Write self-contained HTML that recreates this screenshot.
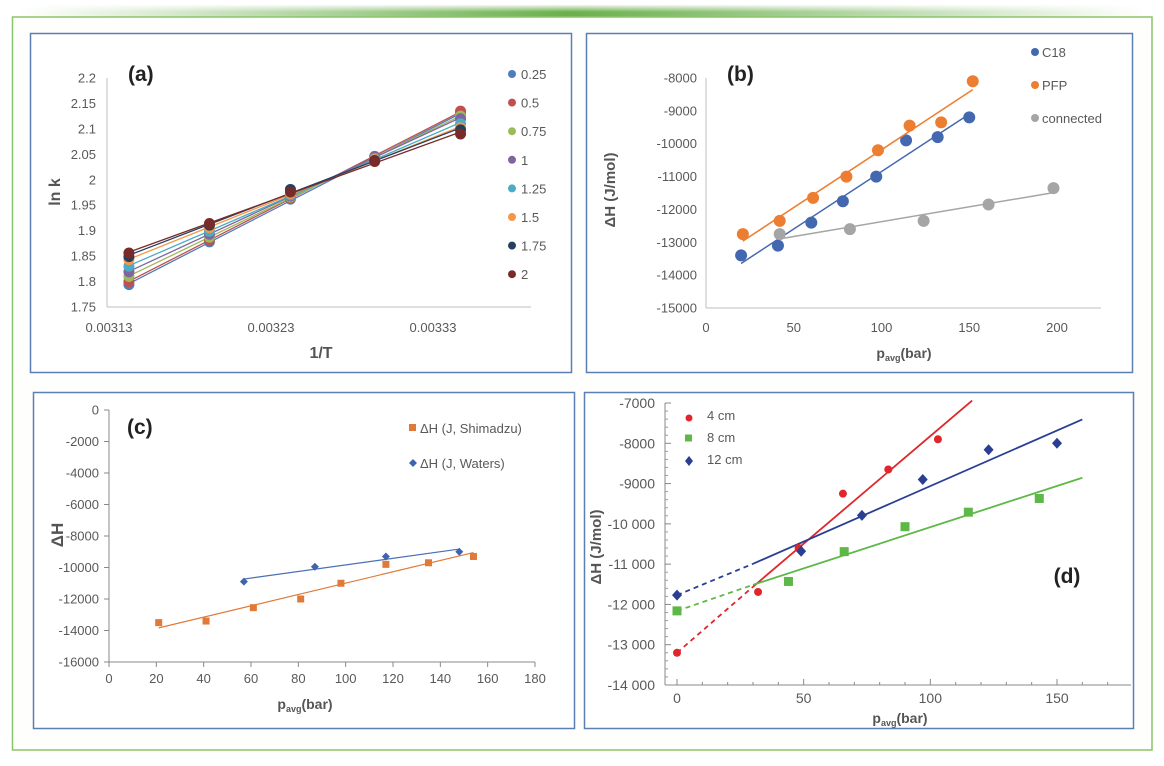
<!DOCTYPE html>
<html><head><meta charset="utf-8">
<style>
html,body{margin:0;padding:0;background:#fff;}
svg{display:block;font-family:"Liberation Sans",sans-serif;}
</style></head>
<body>
<svg id="fig" width="1164" height="766" viewBox="0 0 1164 766" xmlns="http://www.w3.org/2000/svg">
<defs>
<linearGradient id="topband" x1="0" x2="1" y1="0" y2="0">
<stop offset="0" stop-color="#6ab04c" stop-opacity="0"/>
<stop offset="0.49" stop-color="#6ab04c" stop-opacity="1"/>
<stop offset="1" stop-color="#6ab04c" stop-opacity="0"/>
</linearGradient>
<linearGradient id="topfade" x1="0" x2="0" y1="0" y2="1">
<stop offset="0" stop-color="#fff" stop-opacity="0.9"/>
<stop offset="1" stop-color="#fff" stop-opacity="0"/>
</linearGradient>
</defs>
<rect x="20" y="5" width="1125" height="12" fill="url(#topband)"/>
<rect x="20" y="5" width="1125" height="7" fill="url(#topfade)"/>
<rect x="12.5" y="17" width="1139.5" height="733" fill="#fefefc" stroke="#8cc46c" stroke-width="1.5"/>
<rect x="30.5" y="33.5" width="541" height="339" fill="#fff" stroke="#5b7fb5" stroke-width="1.5"/>
<rect x="586.5" y="33.5" width="546" height="339" fill="#fff" stroke="#5b7fb5" stroke-width="1.5"/>
<rect x="33.5" y="392.5" width="541" height="336" fill="#fff" stroke="#5b7fb5" stroke-width="1.5"/>
<rect x="584.5" y="392.5" width="549" height="336" fill="#fff" stroke="#5b7fb5" stroke-width="1.5"/>
<g id="layer"></g>
</svg>
<script>
// ---------- Panel (a) data ----------
const aX = [0.0031423, 0.003192, 0.003242, 0.003294, 0.003347];
const aSeriesNames = ["0.25","0.5","0.75","1","1.25","1.5","1.75","2"];
const aY025 = [1.794, 1.878, 1.962, 2.042, 2.130];
const aY05  = [1.800, 1.882, 1.964, 2.044, 2.135];
const aY075 = [1.810, 1.887, 1.966, 2.044, 2.125];
const aY1   = [1.819, 1.893, 1.968, 2.046, 2.120];
const aY125 = [1.830, 1.899, 1.970, 2.042, 2.110];
const aY15  = [1.843, 1.906, 1.973, 2.040, 2.102];
const aY175 = [1.849, 1.911, 1.981, 2.038, 2.098];
const aY2   = [1.856, 1.914, 1.976, 2.036, 2.090];
const aYTicks = [1.75,1.8,1.85,1.9,1.95,2,2.05,2.1,2.15,2.2];
const aXTicks = [0.00313,0.00323,0.00333];
// ---------- Panel (b) data ----------
const bC18X = [20,41,60,78,97,114,132,150];
const bC18Y = [-13400,-13100,-12400,-11750,-11000,-9900,-9800,-9200];
const bPFPX = [21,42,61,80,98,116,134,152];
const bPFPY = [-12750,-12350,-11650,-11000,-10200,-9450,-9350,-8100];
const bConX = [42,82,124,161,198];
const bConY = [-12750,-12600,-12350,-11850,-11350];
const bYTicks = [-15000,-14000,-13000,-12000,-11000,-10000,-9000,-8000];
const bXTicks = [0,50,100,150,200];
// ---------- Panel (c) data ----------
const cShimX = [21,41,61,81,98,117,135,154];
const cShimY = [-13500,-13400,-12550,-12000,-11000,-9800,-9700,-9300];
const cWatX = [57,87,117,148];
const cWatY = [-10900,-9950,-9300,-9000];
const cYTicks = [0,-2000,-4000,-6000,-8000,-10000,-12000,-14000,-16000];
const cXTicks = [0,20,40,60,80,100,120,140,160,180];
// ---------- Panel (d) data ----------
const d4X = [0,32,48,65.5,83.4,103];
const d4Y = [-13200,-11690,-10600,-9250,-8650,-7900];
const d8X = [0,44,66,90,115,143];
const d8Y = [-12160,-11430,-10690,-10070,-9710,-9370];
const d12X = [0,49,73,97,123,150];
const d12Y = [-11770,-10680,-9790,-8900,-8160,-8000];
const dYTicks = [-14000,-13000,-12000,-11000,-10000,-9000,-8000,-7000];
const dYTickLabels = ["-14 000","-13 000","-12 000","-11 000","-10 000","-9000","-8000","-7000"];
const dXTicks = [0,50,100,150];

const NS = "http://www.w3.org/2000/svg";
const layer = document.getElementById('layer');
function mk(tag, attrs, txt){
  const e = document.createElementNS(NS, tag);
  for (const k in attrs) e.setAttribute(k, attrs[k]);
  if (txt !== undefined) e.textContent = txt;
  layer.appendChild(e);
  return e;
}
function lin(d0,d1,r0,r1){ return v => r0 + (v-d0)*(r1-r0)/(d1-d0); }
function fit(xs, ys){
  const n = xs.length; let sx=0, sy=0, sxx=0, sxy=0;
  for (let i=0;i<n;i++){ sx+=xs[i]; sy+=ys[i]; sxx+=xs[i]*xs[i]; sxy+=xs[i]*ys[i]; }
  const m = (n*sxy - sx*sy)/(n*sxx - sx*sx);
  const b = (sy - m*sx)/n;
  return x => m*x + b;
}
const TICK = "#595959";

// ================= Panel (a) =================
(function(){
  const x = lin(0.00313, 0.00333, 109, 433);
  const y = lin(1.75, 2.2, 307, 78);
  const axY = mk('line',{x1:107,y1:78,x2:107,y2:307,stroke:'#bfbfbf','stroke-width':1});
  
  
  const axX = mk('line',{x1:107,y1:307,x2:531,y2:307,stroke:'#bfbfbf','stroke-width':1});
  
  
  aYTicks.forEach(v=>{
    const t = mk('text',{x:96,y:y(v)+4.5,'text-anchor':'end','font-size':13,fill:TICK}, String(v));
    
    
  });
  aXTicks.forEach(v=>{
    const t = mk('text',{x:x(v),y:332,'text-anchor':'middle','font-size':13,fill:TICK}, v.toFixed(5));
    
    
  });
  const series = [aY025,aY05,aY075,aY1,aY125,aY15,aY175,aY2];
  const cols = ["#4f7bbf","#c0504d","#9bbb59","#8064a2","#4bacc6","#f79646","#243f60","#772c2a"];
  series.forEach((ys,si)=>{
    const f = fit(aX, ys);
    const ln = mk('line',{x1:x(aX[0]),y1:y(f(aX[0])),x2:x(aX[4]),y2:y(f(aX[4])),stroke:cols[si],'stroke-width':1.3});
    
    
  });
  series.forEach((ys,si)=>{
    ys.forEach((v,i)=>{
      const c = mk('circle',{cx:x(aX[i]),cy:y(v),r:5.5,fill:cols[si]});
      
      
    });
    const ly = 74 + si*28.6;
    const ld = mk('circle',{cx:512,cy:ly,r:4,fill:cols[si]});
    
    
    const lt = mk('text',{x:521,y:ly+5,'font-size':13,fill:TICK}, aSeriesNames[si]);
    
    
  });
  const pl = mk('text',{x:128,y:81,'font-size':21,'font-weight':'bold',fill:'#222'}, '(a)');
  
  
  const yt = mk('text',{x:0,y:0,'font-size':16,'font-weight':'bold',fill:'#555','text-anchor':'middle',transform:'translate(60,192) rotate(-90)'}, 'ln k');
  
  
  const xt = mk('text',{x:321,y:358,'font-size':16,'font-weight':'bold',fill:'#555','text-anchor':'middle'}, '1/T');
  
  
})();

// ================= Panel (b) =================
(function(){
  const x = lin(0, 200, 706, 1057);
  const y = lin(-15000, -8000, 308, 78);
  const axY = mk('line',{x1:706,y1:78,x2:706,y2:308,stroke:'#bfbfbf','stroke-width':1});
  
  
  const axX = mk('line',{x1:706,y1:308,x2:1101,y2:308,stroke:'#bfbfbf','stroke-width':1});
  
  
  bYTicks.forEach(v=>{
    const t = mk('text',{x:697,y:y(v)+4.5,'text-anchor':'end','font-size':13,fill:TICK}, String(v));
    
    
  });
  bXTicks.forEach(v=>{
    const t = mk('text',{x:x(v),y:332,'text-anchor':'middle','font-size':13,fill:TICK}, String(v));
    
    
  });
  const sets = [[bC18X,bC18Y,'#4468b0','C18'],[bPFPX,bPFPY,'#ed7d31','PFP'],[bConX,bConY,'#a5a5a5','connected']];
  sets.forEach((s,si)=>{
    const xs=s[0], ys=s[1], f=fit(xs,ys), n=xs.length;
    const ln = mk('line',{x1:x(xs[0]),y1:y(f(xs[0])),x2:x(xs[n-1]),y2:y(f(xs[n-1])),stroke:s[2],'stroke-width':1.5});
    
    
    xs.forEach((v,i)=>{
      const c = mk('circle',{cx:x(v),cy:y(ys[i]),r:6,fill:s[2]});
      
      
    });
    const ly = 52 + si*33;
    const ld = mk('circle',{cx:1035,cy:ly,r:4,fill:s[2]});
    
    
    const lt = mk('text',{x:1042,y:ly+5,'font-size':13,fill:TICK}, s[3]);
    
    
  });
  const pl = mk('text',{x:727,y:81,'font-size':21,'font-weight':'bold',fill:'#222'}, '(b)');
  
  
  const yt = mk('text',{x:0,y:0,'font-size':15,'font-weight':'bold',fill:'#555','text-anchor':'middle',transform:'translate(615,190) rotate(-90)'}, 'ΔH (J/mol)');
  
  
  const xt = mk('text',{x:904,y:358,'font-size':14,'font-weight':'bold',fill:'#555','text-anchor':'middle'});
  xt.innerHTML = 'p<tspan font-size="9" dy="3">avg</tspan><tspan dy="-3">(bar)</tspan>';
  
  
})();

// ================= Panel (c) =================
(function(){
  const x = lin(0, 180, 109, 535);
  const y = lin(-16000, 0, 662, 410);
  const axY = mk('line',{x1:109,y1:410,x2:109,y2:662,stroke:'#888','stroke-width':1});
  
  
  const axX = mk('line',{x1:109,y1:662,x2:535,y2:662,stroke:'#888','stroke-width':1});
  
  
  cYTicks.forEach(v=>{
    const tk = mk('line',{x1:104,y1:y(v),x2:109,y2:y(v),stroke:'#888'});
    
    
    const t = mk('text',{x:99,y:y(v)+4.5,'text-anchor':'end','font-size':13,fill:TICK}, String(v));
    
    
  });
  cXTicks.forEach(v=>{
    const tk = mk('line',{x1:x(v),y1:662,x2:x(v),y2:667,stroke:'#888'});
    
    
    const t = mk('text',{x:x(v),y:683,'text-anchor':'middle','font-size':13,fill:TICK}, String(v));
    
    
  });
  const fS = fit(cShimX,cShimY), fW = fit(cWatX,cWatY);
  const l1 = mk('line',{x1:x(cShimX[0]),y1:y(fS(cShimX[0])),x2:x(cShimX[7]),y2:y(fS(cShimX[7])),stroke:'#e07a3a','stroke-width':1.2});
  
  
  const l2 = mk('line',{x1:x(cWatX[0]),y1:y(fW(cWatX[0])),x2:x(cWatX[3]),y2:y(fW(cWatX[3])),stroke:'#4a6fb5','stroke-width':1.2});
  
  
  cShimX.forEach((v,i)=>{
    const r = mk('rect',{x:x(v)-3.5,y:y(cShimY[i])-3.5,width:7,height:7,fill:'#e07a3a'});
    
    
  });
  cWatX.forEach((v,i)=>{
    const cx=x(v), cy=y(cWatY[i]);
    const p = mk('polygon',{points:`${cx},${cy-4} ${cx+4},${cy} ${cx},${cy+4} ${cx-4},${cy}`,fill:'#3f64ad'});
    
    
  });
  const lm1 = mk('rect',{x:409,y:424,width:7,height:7,fill:'#e07a3a'});
  
  
  const lt1 = mk('text',{x:420,y:433,'font-size':13,fill:TICK}, 'ΔH (J, Shimadzu)');
  
  
  const lm2 = mk('polygon',{points:'413,459 417,463 413,467 409,463',fill:'#3f64ad'});
  
  
  const lt2 = mk('text',{x:420,y:468,'font-size':13,fill:TICK}, 'ΔH (J, Waters)');
  
  
  const pl = mk('text',{x:127,y:434,'font-size':21,'font-weight':'bold',fill:'#222'}, '(c)');
  
  
  const yt = mk('text',{x:0,y:0,'font-size':17,'font-weight':'bold',fill:'#555','text-anchor':'middle',transform:'translate(63,535) rotate(-90)'}, 'ΔH');
  
  
  const xt = mk('text',{x:305,y:709,'font-size':14,'font-weight':'bold',fill:'#555','text-anchor':'middle'});
  xt.innerHTML = 'p<tspan font-size="9" dy="3">avg</tspan><tspan dy="-3">(bar)</tspan>';
  
  
})();

// ================= Panel (d) =================
(function(){
  const x = lin(0, 150, 677, 1057);
  const y = lin(-14000, -7000, 685, 403);
  const axY = mk('line',{x1:665,y1:403,x2:665,y2:685,stroke:'#888','stroke-width':1});
  
  
  const axX = mk('line',{x1:665,y1:685,x2:1131,y2:685,stroke:'#888','stroke-width':1});
  
  
  dYTicks.forEach((v,i)=>{
    const tk = mk('line',{x1:665,y1:y(v),x2:671,y2:y(v),stroke:'#888'});
    
    
    if (i < dYTicks.length-1){
      for (let k=1;k<5;k++){
        const mt = mk('line',{x1:665,y1:y(v+k*200),x2:668,y2:y(v+k*200),stroke:'#999'});
        
        
      }
    }
    const t = mk('text',{x:655,y:y(v)+5,'text-anchor':'end','font-size':14,fill:TICK}, dYTickLabels[i]);
    
    
  });
  for (let v=0; v<=170; v+=10){
    const tk = mk('line',{x1:x(v),y1:685,x2:x(v),y2:v%50===0?679:682,stroke:'#888'});
    
    
  }
  dXTicks.forEach(v=>{
    const t = mk('text',{x:x(v),y:703,'text-anchor':'middle','font-size':14,fill:TICK}, String(v));
    
    
  });
  const sets = [[d4X,d4Y,'#e0262b','4cm',116.5],[d8X,d8Y,'#5db847','8cm',160],[d12X,d12Y,'#2a3f92','12cm',160]];
  sets.forEach(s=>{
    const xs=s[0].slice(1), ys=s[1].slice(1), f=fit(xs,ys);
    const dl = mk('line',{x1:x(0),y1:y(s[1][0]),x2:x(30),y2:y(f(30)),stroke:s[2],'stroke-width':1.8,'stroke-dasharray':'5,4'});
    
    
    const sl = mk('line',{x1:x(30),y1:y(f(30)),x2:x(s[4]),y2:y(f(s[4])),stroke:s[2],'stroke-width':1.8});
    
    
  });
  d4X.forEach((v,i)=>{
    const c = mk('circle',{cx:x(v),cy:y(d4Y[i]),r:4,fill:'#e0262b'});
    
    
  });
  d8X.forEach((v,i)=>{
    const r = mk('rect',{x:x(v)-4.5,y:y(d8Y[i])-4.5,width:9,height:9,fill:'#5db847'});
    
    
  });
  d12X.forEach((v,i)=>{
    const cx=x(v), cy=y(d12Y[i]);
    const p = mk('polygon',{points:`${cx},${cy-5.5} ${cx+5},${cy} ${cx},${cy+5.5} ${cx-5},${cy}`,fill:'#2a3f92'});
    
    
  });
  const m1 = mk('circle',{cx:689,cy:418,r:3.5,fill:'#e0262b'});
  
  
  const t1 = mk('text',{x:707,y:420,'font-size':13,fill:TICK}, '4 cm');
  
  
  const m2 = mk('rect',{x:685,y:434.5,width:7,height:7,fill:'#5db847'});
  
  
  const t2 = mk('text',{x:707,y:442,'font-size':13,fill:TICK}, '8 cm');
  
  
  const m3 = mk('polygon',{points:'689,456 693,461 689,466 685,461',fill:'#2a3f92'});
  
  
  const t3 = mk('text',{x:707,y:464,'font-size':13,fill:TICK}, '12 cm');
  
  
  const pl = mk('text',{x:1067,y:583,'font-size':21,'font-weight':'bold',fill:'#222','text-anchor':'middle'}, '(d)');
  
  
  const yt = mk('text',{x:0,y:0,'font-size':15,'font-weight':'bold',fill:'#555','text-anchor':'middle',transform:'translate(601,547) rotate(-90)'}, 'ΔH (J/mol)');
  
  
  const xt = mk('text',{x:900,y:723,'font-size':14,'font-weight':'bold',fill:'#555','text-anchor':'middle'});
  xt.innerHTML = 'p<tspan font-size="9" dy="3">avg</tspan><tspan dy="-3">(bar)</tspan>';
  
  
})();
</script>
</body></html>
